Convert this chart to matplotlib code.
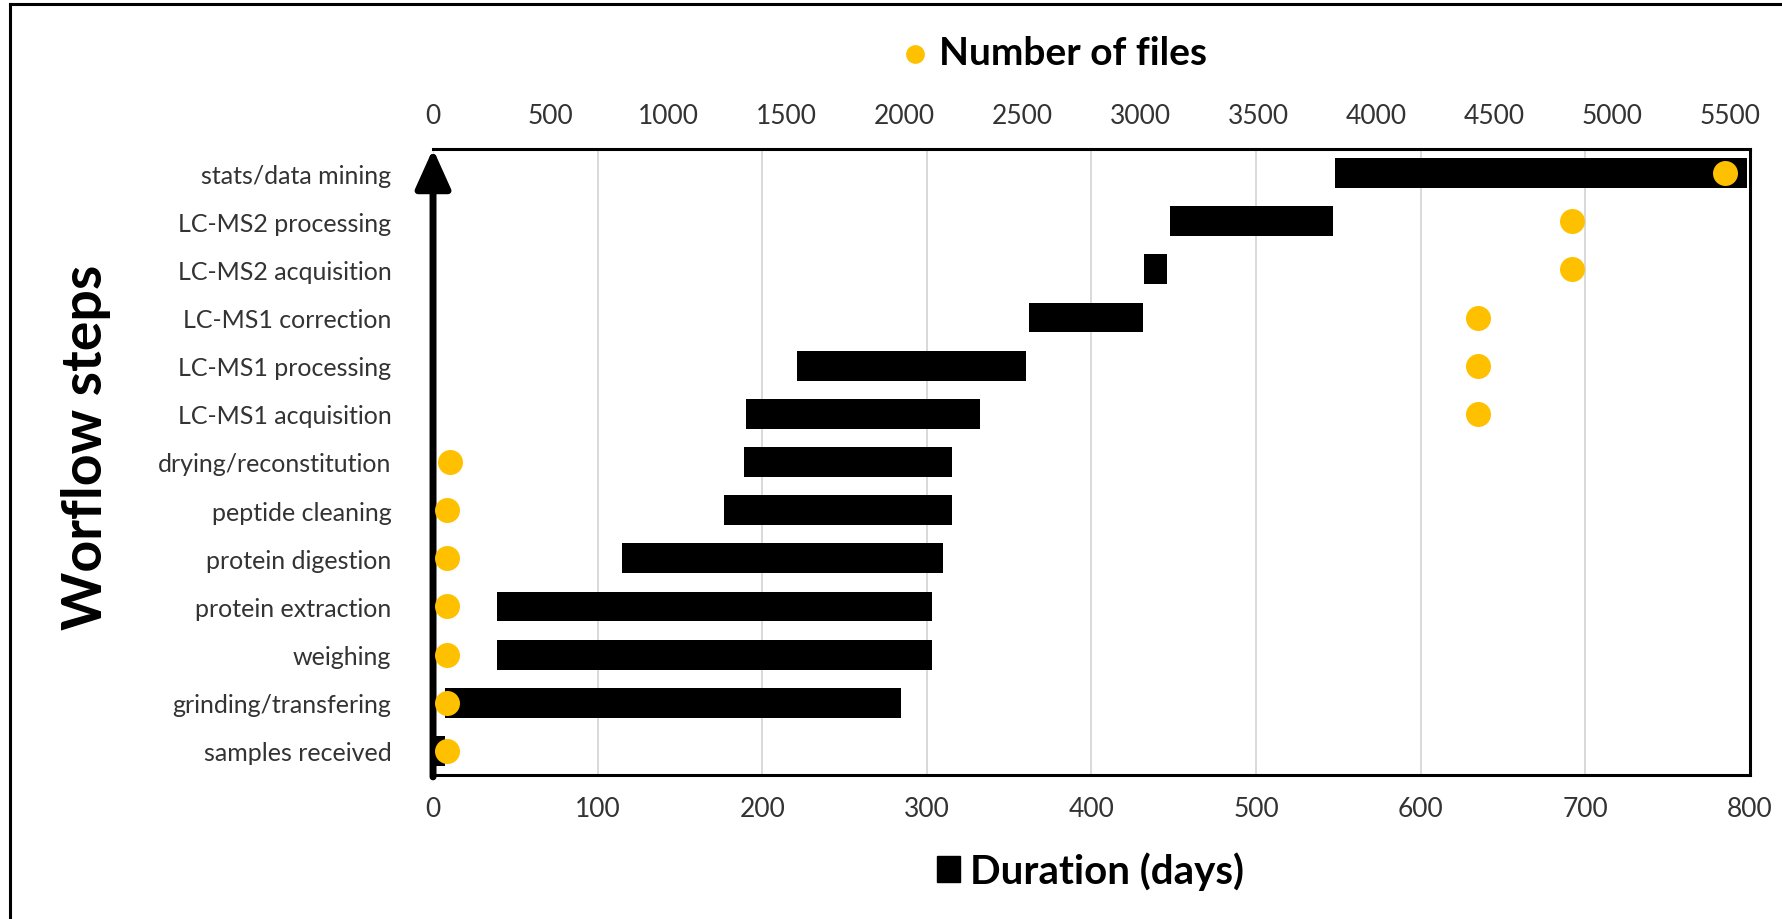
import matplotlib
matplotlib.use("Agg")
import matplotlib.pyplot as plt
from matplotlib.lines import Line2D
from matplotlib.patches import Patch

plt.rcParams['font.family'] = ['Lato', 'DejaVu Sans']

# workflow steps, bottom to top
steps = ['samples received', 'grinding/transfering', 'weighing', 'protein extraction',
         'protein digestion', 'peptide cleaning', 'drying/reconstitution',
         'LC-MS1 acquisition', 'LC-MS1 processing', 'LC-MS1 correction',
         'LC-MS2 acquisition', 'LC-MS2 processing', 'stats/data mining']
start_days = [0, 7, 39, 39, 115, 177, 189, 190, 221, 362, 432, 448, 548]
duration_days = [7, 277, 264, 264, 195, 138, 126, 142, 139, 69, 14, 99, 250]
n_files = [60, 60, 60, 60, 60, 60, 70, 4430, 4430, 4430, 4830, 4830, 5480]

day_ticks = [0, 100, 200, 300, 400, 500, 600, 700, 800]
file_ticks = [0, 500, 1000, 1500, 2000, 2500, 3000, 3500, 4000, 4500, 5000, 5500]

gold = '#FFC000'
txt = '#333333'

fig = plt.figure(figsize=(17.82, 9.2), dpi=100)
ax = fig.add_axes([0.243, 0.1565, 0.739, 0.6805])

ypos = list(range(len(steps)))
bars = ax.barh(ypos, duration_days, left=start_days, height=0.62, color='black', zorder=2)

ax.set_xlim(0, 800)
ax.set_ylim(-0.5, len(steps) - 0.5)
ax.set_xticks(day_ticks)
ax.set_yticks(ypos)
ax.set_yticklabels(steps)
ax.tick_params(axis='x', length=0, pad=15, labelsize=19, labelcolor=txt)
ax.tick_params(axis='y', length=0, pad=30, labelsize=18, labelcolor=txt)
ax.grid(axis='x', color='#d9d9d9', lw=1.4)
ax.set_axisbelow(True)
for side in ['top', 'right', 'bottom']:
    ax.spines[side].set_linewidth(2.2)
ax.spines['left'].set_visible(False)

# secondary axis for file counts
ax2 = ax.twiny()
dots = ax2.scatter(n_files, ypos, s=18**2, color=gold, zorder=3, linewidths=0)
ax2.set_xlim(0, 5585)
ax2.set_xticks(file_ticks)
ax2.tick_params(axis='x', length=0, pad=15, labelsize=19, labelcolor=txt)
for side in ax2.spines:
    ax2.spines[side].set_visible(False)

# vertical arrow as the y axis
ax.annotate('', xy=(0, 1), xytext=(0, -0.003), xycoords='axes fraction',
            arrowprops=dict(arrowstyle='-|>,head_length=1.6,head_width=0.72',
                            mutation_scale=15, lw=5, color='black',
                            shrinkA=0, shrinkB=0), zorder=5, annotation_clip=False)

fig.text(0.0485, 0.514, 'Worflow steps', rotation=90, fontsize=40, fontweight='bold',
         ha='center', va='center')

fig.legend([dots], ['Number of files'], loc='center', bbox_to_anchor=(0.590, 0.942),
           frameon=False, prop={'size': 28, 'weight': 'bold'}, markerscale=0.75,
           handletextpad=0.1, handlelength=1.0)
fig.legend([Patch(color='black')], ['Duration (days)'], loc='center',
           bbox_to_anchor=(0.612, 0.052), frameon=False,
           prop={'size': 29, 'weight': 'bold'}, handlelength=0.55, handleheight=0.6,
           handletextpad=0.25)

# outer frame (left and top)
fig.add_artist(Line2D([10 / 1782, 10 / 1782], [0, 1 - 5 / 920], transform=fig.transFigure,
                      color='black', lw=2.2))
fig.add_artist(Line2D([10 / 1782, 1], [1 - 5 / 920, 1 - 5 / 920], transform=fig.transFigure,
                      color='black', lw=2.2))

fig.savefig('out.png', dpi=100)
